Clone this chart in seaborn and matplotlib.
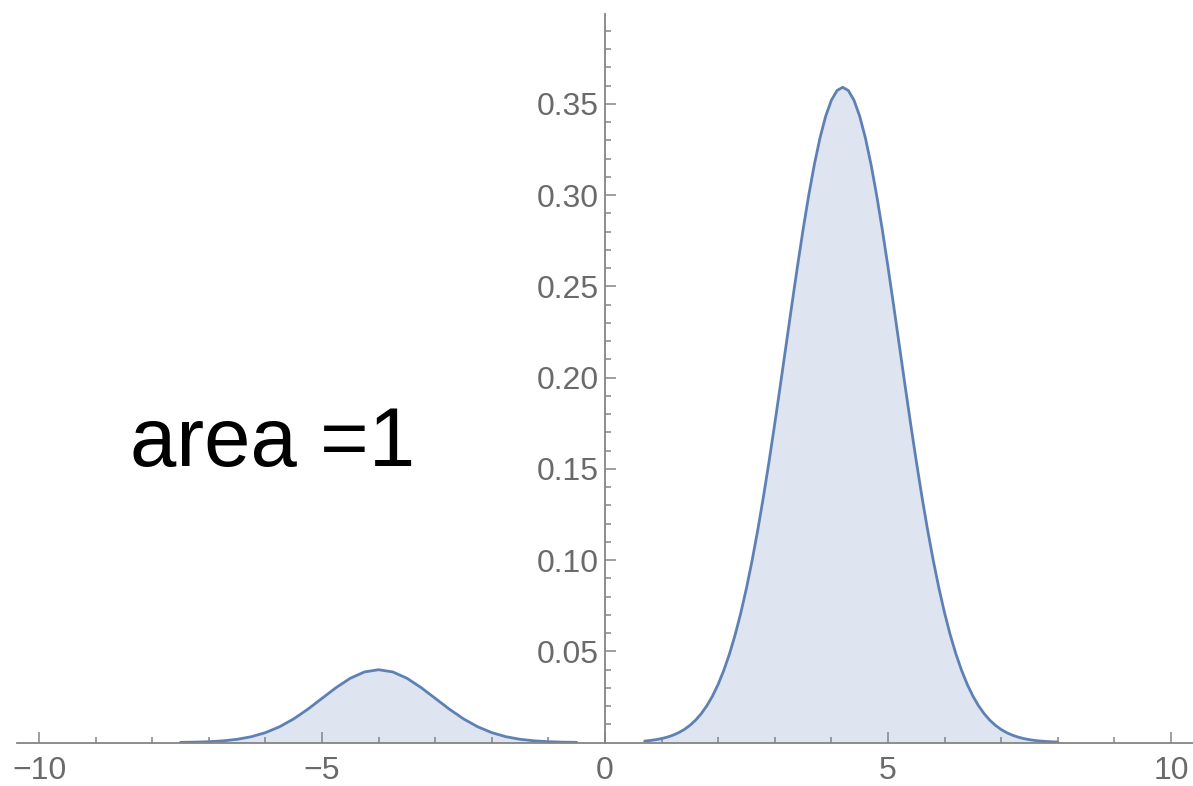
import numpy as np
import pandas as pd
import matplotlib
matplotlib.use("Agg")
import matplotlib.pyplot as plt
import seaborn as sns
from matplotlib.ticker import FixedLocator

# density curve, values
small_bump_x = [-7.5, -7.25, -7.0, -6.75, -6.5, -6.25, -6.0, -5.75, -5.5, -5.25,
                -5.0, -4.75, -4.5, -4.25, -4.0, -3.75, -3.5, -3.25, -3.0, -2.75,
                -2.5, -2.25, -2.0, -1.75, -1.5, -1.25, -1.0, -0.75, -0.5]
small_bump_y = [0.00009, 0.00020, 0.00044, 0.00091, 0.00175, 0.00317, 0.00540, 0.00863, 0.01295, 0.01826,
                0.02420, 0.03011, 0.03521, 0.03867, 0.03989, 0.03867, 0.03521, 0.03011, 0.02420, 0.01826,
                0.01295, 0.00863, 0.00540, 0.00317, 0.00175, 0.00091, 0.00044, 0.00020, 0.00009]

big_bump_x = [0.7, 0.8, 0.9, 1.0, 1.1, 1.2, 1.3, 1.4, 1.5, 1.6,
              1.7, 1.8, 1.9, 2.0, 2.1, 2.2, 2.3, 2.4, 2.5, 2.6,
              2.7, 2.8, 2.9, 3.0, 3.1, 3.2, 3.3, 3.4, 3.5, 3.6,
              3.7, 3.8, 3.9, 4.0, 4.1, 4.2, 4.3, 4.4, 4.5, 4.6,
              4.7, 4.8, 4.9, 5.0, 5.1, 5.2, 5.3, 5.4, 5.5, 5.6,
              5.7, 5.8, 5.9, 6.0, 6.1, 6.2, 6.3, 6.4, 6.5, 6.6,
              6.7, 6.8, 6.9, 7.0, 7.1, 7.2, 7.3, 7.4, 7.5, 7.6,
              7.7, 7.8, 7.9, 8.0]
big_bump_y = [0.00079, 0.00111, 0.00155, 0.00215, 0.00294, 0.00399, 0.00536, 0.00712, 0.00938, 0.01222,
              0.01578, 0.02016, 0.02549, 0.03193, 0.03959, 0.04859, 0.05905, 0.07105, 0.08464, 0.09983,
              0.11657, 0.13475, 0.15423, 0.17477, 0.19607, 0.21777, 0.23948, 0.26072, 0.28103, 0.29990,
              0.31686, 0.33144, 0.34325, 0.35194, 0.35726, 0.35905, 0.35726, 0.35194, 0.34325, 0.33144,
              0.31686, 0.29990, 0.28103, 0.26072, 0.23948, 0.21777, 0.19607, 0.17477, 0.15423, 0.13475,
              0.11657, 0.09983, 0.08464, 0.07105, 0.05905, 0.04859, 0.03959, 0.03193, 0.02549, 0.02016,
              0.01578, 0.01222, 0.00938, 0.00712, 0.00536, 0.00399, 0.00294, 0.00215, 0.00155, 0.00111,
              0.00079, 0.00055, 0.00038, 0.00026]

x_major = [-10, -5, 0, 5, 10]
x_minor = [-9, -8, -7, -6, -4, -3, -2, -1, 1, 2, 3, 4, 6, 7, 8, 9]
y_major = [0.05, 0.10, 0.15, 0.20, 0.25, 0.30, 0.35]
y_labels = ["0.05", "0.10", "0.15", "0.20", "0.25", "0.30", "0.35"]
y_minor = [0.01, 0.02, 0.03, 0.04, 0.06, 0.07, 0.08, 0.09, 0.11, 0.12, 0.13, 0.14,
           0.16, 0.17, 0.18, 0.19, 0.21, 0.22, 0.23, 0.24, 0.26, 0.27, 0.28, 0.29,
           0.31, 0.32, 0.33, 0.34, 0.36, 0.37, 0.38, 0.39]

note_text = "area =1"

df = pd.DataFrame({
    "x": small_bump_x + big_bump_x,
    "density": small_bump_y + big_bump_y,
    "part": ["small"] * len(small_bump_x) + ["big"] * len(big_bump_x),
})

sns.set_theme(style="white")
plt.rcParams["font.family"] = ["Liberation Sans", "DejaVu Sans"]

line_color = "#5E81B5"
axis_color = "#858585"
label_color = "#6a6a6a"

W, H = 1193, 786
fig = plt.figure(figsize=(W / 100, H / 100), dpi=100)
ax = fig.add_axes([17 / W, (H - 742.5) / H, (W - 17) / W, (742.5 - 14) / H])

for part, grp in df.groupby("part"):
    ax.fill_between(grp["x"], grp["density"], 0, color=line_color, alpha=0.2, lw=0, zorder=2)
sns.lineplot(data=df, x="x", y="density", units="part", sort=False, estimator=None,
             color=line_color, linewidth=2.0, ax=ax, zorder=3)

ax.set_xlim(-10.39, 10.39)
ax.set_ylim(0, 0.3992)

# axes cross at the origin, Mathematica style
ax.spines["left"].set_position(("data", 0))
ax.spines["right"].set_visible(False)
ax.spines["top"].set_visible(False)
for side in ["left", "bottom"]:
    ax.spines[side].set_color(axis_color)
    ax.spines[side].set_linewidth(1.3)
    ax.spines[side].set_zorder(4)

ax.xaxis.set_major_locator(FixedLocator(x_major))
ax.xaxis.set_minor_locator(FixedLocator(x_minor))
ax.yaxis.set_major_locator(FixedLocator(y_major))
ax.yaxis.set_minor_locator(FixedLocator(y_minor))
ax.set_xticklabels([f"{v}".replace("-", "\u2212") for v in x_major])
ax.set_yticklabels(y_labels)

ax.tick_params(axis="both", which="both", direction="in", color=axis_color,
               labelcolor=label_color, labelsize=23, width=1.1,
               bottom=True, left=True, top=False, right=False)
ax.tick_params(axis="both", which="major", length=8)
ax.tick_params(axis="both", which="minor", length=4)
ax.tick_params(axis="x", which="major", pad=9.5)
ax.tick_params(axis="y", which="major", pad=4.5)

ax.set_xlabel("")
ax.set_ylabel("")

ax.text(-8.39, 0.1515, note_text, fontsize=60, color="black",
        ha="left", va="baseline")

fig.savefig("out.png", dpi=100)
